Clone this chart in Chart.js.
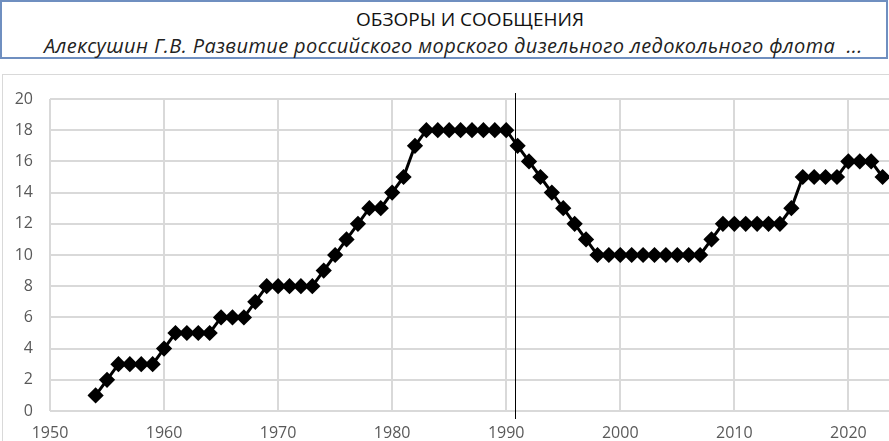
<!DOCTYPE html>
<html>
<head>
<meta charset="utf-8">
<script src="https://cdn.jsdelivr.net/npm/chart.js@4"></script>
<style>
  html, body { margin: 0; padding: 0; background: #fff; overflow: hidden; width: 889px; height: 441px; }
  #head {
    position: absolute; left: 0px; top: 0px; width: 884px; height: 55px;
    border: 2px solid #6f8fc0; background: #fff;
  }
  #title {
    position: absolute; left: 0; right: 0; top: 4px; text-align: center;
    font-family: "Open Sans", sans-serif; font-size: 19px; color: #111;
    padding-left: 52px;
  }
  #sub {
    position: absolute; left: 42px; top: 30px; white-space: nowrap;
    font-family: "Open Sans", sans-serif; font-style: italic; font-size: 20px; color: #222;
    letter-spacing: 0.4px;
  }
  #frame {
    position: absolute; left: 2px; top: 74px; width: 900px; height: 400px;
    border-top: 1px solid #d9d9d9; border-left: 1px solid #d9d9d9;
  }
  #myChart { position: absolute; left: 1px; top: 1px; width: 890px; height: 385px; }
</style>
</head>
<body>
<div id="head">
  <div id="title">ОБЗОРЫ И СООБЩЕНИЯ</div>
  <div id="sub">Алексушин Г.В. Развитие российского морского дизельного ледокольного флота &nbsp;...</div>
</div>
<div id="frame"><canvas id="myChart" width="890" height="385"></canvas></div>
<script>
const years = [
  1954, 1955, 1956, 1957, 1958, 1959, 1960, 1961, 1962, 1963, 1964, 1965, 1966, 1967, 1968, 1969,
  1970, 1971, 1972, 1973, 1974, 1975, 1976, 1977, 1978, 1979, 1980, 1981, 1982, 1983, 1984, 1985,
  1986, 1987, 1988, 1989, 1990, 1991, 1992, 1993, 1994, 1995, 1996, 1997, 1998, 1999, 2000, 2001,
  2002, 2003, 2004, 2005, 2006, 2007, 2008, 2009, 2010, 2011, 2012, 2013, 2014, 2015, 2016, 2017,
  2018, 2019, 2020, 2021, 2022, 2023
];
const fleet = [
  1, 2, 3, 3, 3, 3, 4, 5, 5, 5, 5, 6, 6, 6, 7, 8,
  8, 8, 8, 8, 9, 10, 11, 12, 13, 13, 14, 15, 17, 18, 18, 18,
  18, 18, 18, 18, 18, 17, 16, 15, 14, 13, 12, 11, 10, 10, 10, 10,
  10, 10, 10, 10, 10, 10, 11, 12, 12, 12, 12, 12, 12, 13, 15, 15,
  15, 15, 16, 16, 16, 15
];
const xTicks = [1950, 1960, 1970, 1980, 1990, 2000, 2010, 2020];
const yTicks = [0, 2, 4, 6, 8, 10, 12, 14, 16, 18, 20];
const markerYear = [1990.75];

const points = years.map((y, i) => ({ x: y, y: fleet[i] }));

// thin black vertical line across the plot
const markerLine = {
  id: "markerLine",
  afterDatasetsDraw(chart) {
    const { ctx, chartArea, scales } = chart;
    ctx.save();
    ctx.strokeStyle = "#000";
    ctx.lineWidth = 1;
    markerYear.forEach((v) => {
      const px = Math.round(scales.x.getPixelForValue(v)) + 0.5;
      ctx.beginPath();
      ctx.moveTo(px, chartArea.top - 6);
      ctx.lineTo(px, chartArea.bottom + 8);
      ctx.stroke();
    });
    ctx.restore();
  },
};

const ctx = document.getElementById("myChart");
new Chart(ctx, {
  type: "line",
  data: {
    datasets: [
      {
        data: points,
        borderColor: "#000",
        backgroundColor: "#000",
        borderWidth: 3,
        pointStyle: "rectRot",
        pointRadius: 6,
        pointHoverRadius: 6,
        tension: 0,
        clip: false,
      },
    ],
  },
  options: {
    responsive: false,
    animation: false,
    layout: { autoPadding: false, padding: { top: 23, right: 0, left: 0, bottom: 0 } },
    plugins: { legend: { display: false }, tooltip: { enabled: false } },
    scales: {
      x: {
        type: "linear",
        min: 1950,
        max: 2024,
        afterBuildTicks: (axis) => { axis.ticks = xTicks.map((v) => ({ value: v })); },
        ticks: {
          color: "#595959",
          font: { family: "Open Sans", size: 16 },
          padding: 13,
          maxRotation: 0,
          callback: (v) => String(v),
        },
        grid: { color: "#d9d9d9", lineWidth: 2, drawTicks: false },
        border: { display: false },
        afterFit: (axis) => {
          axis.height = 50;
          axis.paddingLeft = 0;
          axis.paddingRight = 0;
        },
      },
      y: {
        min: 0,
        max: 20,
        afterBuildTicks: (axis) => { axis.ticks = yTicks.map((v) => ({ value: v })); },
        ticks: {
          color: "#595959",
          font: { family: "Open Sans", size: 16 },
          padding: 17,
        },
        grid: { color: "#d9d9d9", lineWidth: 2, drawTicks: false },
        border: { display: false },
        afterFit: (axis) => {
          axis.width = 46;
          axis.paddingTop = 0;
          axis.paddingBottom = 0;
        },
      },
    },
  },
  plugins: [markerLine],
});
</script>
</body>
</html>
